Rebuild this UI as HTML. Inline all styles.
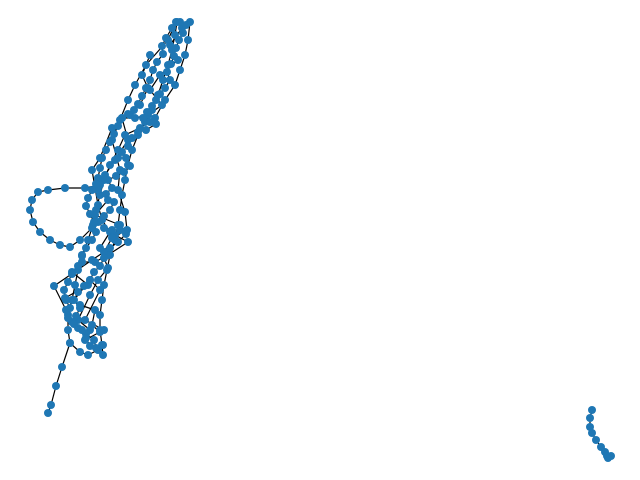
<!DOCTYPE html>
<html><head><meta charset="utf-8"><style>html,body{margin:0;padding:0;background:#fff}svg{display:block}</style></head>
<body>
<svg id="chart" width="640" height="480" viewBox="0 0 640 480" xmlns="http://www.w3.org/2000/svg">
<g id="edges"></g>
<g id="nodes"></g>
</svg>
<script>
// layout coordinates of node chains (layout units; y up)
const chainA = [[177,458],[175,445],[172,430],[168,415],[163,400],[158,385],[152,370],[145,358],[138,345],[132,330],[128,315],[125,300],[122,285],[120,270],[118,255],[115,240],[110,225],[107,210],[104,195],[102,180],[100,165],[100,150],[102,135],[103,125]];
const chainB = [[190,458],[188,440],[185,425],[180,410],[175,395],[165,380],[155,362],[140,352],[125,345],[118,330],[110,315],[104,300],[100,285],[96,270],[93,255],[88,240],[82,225],[78,210],[75,195],[72,180],[68,165],[68,150],[70,137],[80,128],[88,125],[98,130],[103,135]];
const chainLoop = [[100,295],[85,292],[65,292],[48,290],[38,288],[32,280],[30,270],[33,258],[40,248],[50,240],[60,235],[70,233],[80,240],[92,252]];
const chainTail = [[70,137],[62,113],[56,94],[51,75],[48,67]];
const chainC = [[182,452],[170,435],[178,420],[160,405],[150,390],[162,375],[148,365],[135,362],[122,362],[128,340],[115,320],[105,305],[98,290],[108,280],[95,265],[120,255],[115,245],[128,238],[108,225],[95,218],[82,218],[72,208],[88,195],[65,182],[80,175],[95,170],[92,155],[100,148],[85,140]];
const chainD = [[150,425],[142,405],[148,392],[140,375],[130,365],[112,352],[100,322],[92,310],[98,275],[102,260],[110,248],[100,232],[108,212],[98,200],[90,185],[78,160],[90,150]];
const chainE = [[176,458],[168,440],[146,415],[135,395],[128,380],[120,360],[112,340],[120,310],[118,290],[125,268],[127,250],[112,242],[104,228],[92,220],[54,194],[66,170],[90,200],[100,190],[85,160],[104,150]];
const chainF = [[186,455],[183,447],[179,440],[176,432],[174,424],[171,416],[167,408],[170,400],[165,392],[160,386],[156,380],[152,374],[147,368],[143,362],[150,358],[156,356],[146,350],[138,348],[132,342],[128,334],[122,328],[118,322],[126,322],[130,314],[124,308],[116,304],[108,300],[112,292],[106,286],[114,278],[110,270],[104,264],[98,258],[104,252],[112,250],[120,250],[126,246],[118,238],[110,232],[104,222],[100,214],[94,208],[90,200],[84,194],[78,188],[74,180],[80,172],[76,164],[72,158],[78,152],[86,146],[94,140],[96,132]];
const chainG = [[180,458],[172,452],[166,442],[162,434],[163,426],[157,418],[153,410],[150,400],[146,392],[142,384],[138,376],[134,370],[128,366],[122,362],[118,354],[114,346],[110,338],[106,330],[102,322],[100,312],[98,302],[96,296],[92,290],[88,282],[86,274],[90,266],[94,258],[96,248],[92,240],[86,232],[82,224],[78,214],[72,206],[68,198],[64,190],[66,180],[70,172],[68,162],[74,156],[82,150],[86,142],[90,134]];
const chainR = [[592,70],[590,62],[590,53],[592,47],[596,40],[601,33],[605,28],[607,24],[611,24],[608,22]];
const chains = [chainA, chainB, chainLoop, chainTail, chainC, chainD, chainE, chainF, chainG, chainR];

const xDomain = [0, 640], yDomain = [0, 480];
const W = 640, H = 480;
function xScale(v){ return (v - xDomain[0]) / (xDomain[1] - xDomain[0]) * W; }
function yScale(v){ return H - (v - yDomain[0]) / (yDomain[1] - yDomain[0]) * H; }

const NS = "http://www.w3.org/2000/svg";
const eg = document.getElementById('edges'), ng = document.getElementById('nodes');
chains.forEach((ch, ci) => {
  for (let i = 1; i < ch.length; i++) {
    const l = document.createElementNS(NS, 'line');
    l.setAttribute('x1', xScale(ch[i-1][0])); l.setAttribute('y1', yScale(ch[i-1][1]));
    l.setAttribute('x2', xScale(ch[i][0])); l.setAttribute('y2', yScale(ch[i][1]));
    l.setAttribute('stroke', '#000'); l.setAttribute('stroke-width', '1.2');
    
    
    eg.appendChild(l);
  }
  ch.forEach(p => {
    const c = document.createElementNS(NS, 'circle');
    c.setAttribute('cx', xScale(p[0])); c.setAttribute('cy', yScale(p[1]));
    c.setAttribute('r', '4'); c.setAttribute('fill', '#1f77b4');
    
    
    ng.appendChild(c);
  });
});
</script>
</body></html>
